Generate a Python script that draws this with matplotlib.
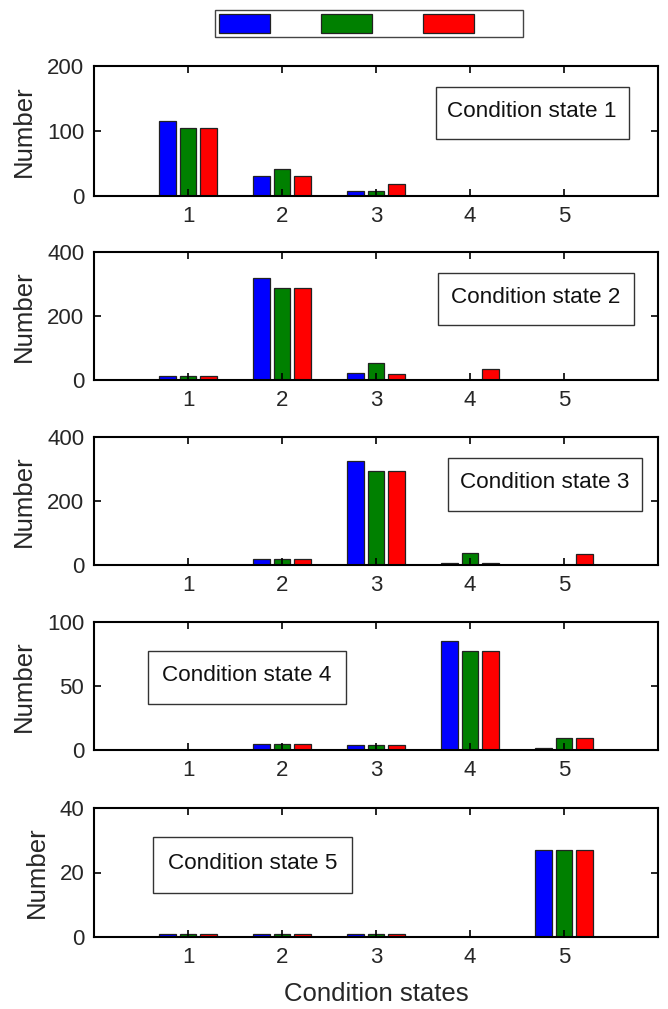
import matplotlib
matplotlib.use("Agg")
import matplotlib.pyplot as plt
from matplotlib.patches import Patch, Rectangle
import numpy as np

plt.rcParams['font.family'] = ['Liberation Sans', 'DejaVu Sans']

categories = [1, 2, 3, 4, 5]
series_colors = ['#0000FF', '#008000', '#FF0000']

# values per panel (condition state), three series each
state1 = [[116, 31, 8, 0, 0], [105, 42, 8, 0, 0], [105, 31, 18, 0, 0]]
state2 = [[13, 320, 21, 1, 0], [13, 288, 52, 1, 0], [13, 288, 20, 33, 0]]
state3 = [[0, 18, 326, 6, 0], [0, 18, 293, 38, 0], [0, 18, 293, 5, 34]]
state4 = [[0, 4.7, 3.6, 85.5, 1.2], [0, 4.7, 3.6, 77.7, 9.3], [0, 4.7, 3.6, 77.7, 9.3]]
state5 = [[1, 1, 1, 0, 27], [1, 1, 1, 0, 27], [1, 1, 1, 0, 27]]
panels = [state1, state2, state3, state4, state5]
yticks_list = [[0, 100, 200], [0, 200, 400], [0, 200, 400], [0, 50, 100], [0, 20, 40]]
box_labels = ['Condition state 1', 'Condition state 2', 'Condition state 3',
              'Condition state 4', 'Condition state 5']
# box extents in axes fractions: (x0, x1, y0, y1)
box_ext = [(0.606, 0.948, 0.440, 0.835),
           (0.610, 0.957, 0.429, 0.835),
           (0.627, 0.971, 0.425, 0.835),
           (0.096, 0.447, 0.360, 0.775),
           (0.105, 0.457, 0.340, 0.775)]

W, H = 668, 1009
fig = plt.figure(figsize=(W / 100, H / 100), dpi=100)

left = 94 / W
width = (658 - 94) / W
tops_bottoms = [(66, 196), (252, 380), (437, 565), (622, 750), (808, 937)]

x = np.array(categories, dtype=float)
offsets = [-0.22, 0.0, 0.22]
bw = 0.18
tc = '#262626'

for i, (data, yt, lab, be, (t, b)) in enumerate(zip(panels, yticks_list, box_labels, box_ext, tops_bottoms)):
    ax = fig.add_axes([left, 1 - b / H, width, (b - t) / H])
    for s in range(3):
        ax.bar(x + offsets[s], data[s], width=bw, color=series_colors[s],
               edgecolor='#222222', linewidth=0.9)
    ax.set_xlim(0, 6)
    ax.set_ylim(yt[0], yt[-1])
    ax.set_xticks(categories)
    ax.set_yticks(yt)
    ax.tick_params(direction='in', top=True, right=True, length=5, width=1.2,
                   labelsize=16, pad=7, labelcolor=tc)
    for sp in ax.spines.values():
        sp.set_linewidth(1.5)
    ax.set_ylabel('Number', fontsize=18.5, labelpad=8, color=tc)
    x0, x1, y0, y1 = be
    ax.add_patch(Rectangle((x0, y0), x1 - x0, y1 - y0, transform=ax.transAxes,
                           facecolor='white', edgecolor='#333333', linewidth=1,
                           zorder=5))
    ax.text((x0 + x1) / 2, (y0 + y1) / 2 + 0.012, lab, transform=ax.transAxes,
            fontsize=16.2, ha='center', va='center', color='#111111', zorder=6)
    if i == 4:
        ax.set_xlabel('Condition states', fontsize=18.5, labelpad=10, color=tc)

handles = [Patch(facecolor=c, edgecolor='#222222', linewidth=0.9) for c in series_colors]
fs = 10
px = fs * 100 / 72
fig.legend(handles, ['', '', ''], ncol=3, loc='upper left',
           bbox_to_anchor=(215 / W, 1 - 10 / H), borderaxespad=0,
           fontsize=fs, handlelength=51 / px, handleheight=23 / px,
           handletextpad=45 / px, columnspacing=6 / px, borderpad=0.3,
           fancybox=False, edgecolor='#444444', framealpha=1)

fig.savefig('out.png', dpi=100)
